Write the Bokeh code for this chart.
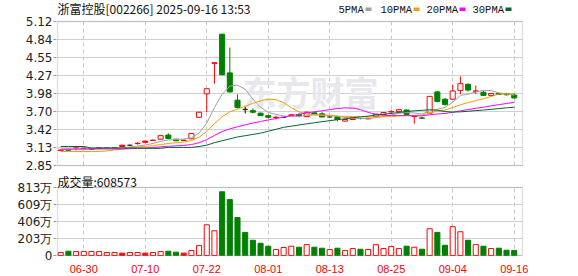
from bokeh.plotting import figure
from bokeh.layouts import column
from bokeh.models import FixedTicker, Range1d, Label, BoxAnnotation, ColumnDataSource
from bokeh.embed import file_html
from bokeh.resources import INLINE

# ---------------- data ----------------
dates = ["06-25", "06-26", "06-27", "06-30", "07-01", "07-02", "07-03", "07-04",
         "07-07", "07-08", "07-09", "07-10", "07-11",
         "07-14", "07-15", "07-16", "07-17", "07-18",
         "07-21", "07-22", "07-23", "07-24", "07-25",
         "07-28", "07-29", "07-30", "07-31", "08-01",
         "08-04", "08-05", "08-06", "08-07", "08-08",
         "08-11", "08-12", "08-13", "08-14", "08-15",
         "08-18", "08-19", "08-20", "08-21", "08-22",
         "08-25", "08-26", "08-27", "08-28", "08-29",
         "09-01", "09-02", "09-03", "09-04", "09-05",
         "09-08", "09-09", "09-10", "09-11", "09-12",
         "09-15", "09-16"]

opens = [3.085, 3.105, 3.14, 3.115, 3.105, 3.12, 3.13, 3.13, 3.17, 3.17,
         3.195, 3.235, 3.245, 3.265, 3.33, 3.265, 3.25, 3.27, 3.61, 3.98,
         4.46, 4.92, 4.31, 3.88, 3.735, 3.715, 3.675, 3.635, 3.605, 3.61,
         3.64, 3.655, 3.62, 3.68, 3.665, 3.615, 3.62, 3.55, 3.575, 3.59,
         3.585, 3.62, 3.655, 3.695, 3.70, 3.725, 3.62, 3.60, 3.675, 4.01,
         3.895, 3.895, 4.035, 4.13, 4.02, 4.005, 3.955, 3.985, 3.985, 3.96]
highs = [3.10, 3.11, 3.155, 3.13, 3.12, 3.14, 3.135, 3.14, 3.175, 3.18,
         3.22, 3.24, 3.255, 3.325, 3.36, 3.27, 3.255, 3.36, 3.69, 4.06,
         4.47, 4.92, 4.71, 3.97, 3.775, 3.75, 3.685, 3.65, 3.635, 3.615,
         3.66, 3.675, 3.70, 3.69, 3.69, 3.625, 3.625, 3.58, 3.605, 3.60,
         3.60, 3.665, 3.69, 3.725, 3.735, 3.73, 3.63, 3.62, 3.94, 4.025,
         3.915, 4.12, 4.255, 4.145, 4.11, 4.025, 3.99, 3.995, 3.995, 3.985]
lows = [3.08, 3.085, 3.085, 3.11, 3.10, 3.115, 3.125, 3.125, 3.145, 3.16,
        3.18, 3.21, 3.24, 3.26, 3.265, 3.235, 3.235, 3.265, 3.60, 3.69,
        4.14, 4.28, 4.00, 3.75, 3.67, 3.67, 3.63, 3.59, 3.575, 3.60,
        3.63, 3.61, 3.615, 3.65, 3.61, 3.605, 3.545, 3.545, 3.57, 3.58,
        3.58, 3.615, 3.65, 3.675, 3.695, 3.65, 3.51, 3.59, 3.67, 3.845,
        3.795, 3.885, 3.975, 4.015, 3.975, 3.95, 3.95, 3.96, 3.955, 3.905]
closes = [3.095, 3.09, 3.145, 3.125, 3.115, 3.13, 3.13, 3.13, 3.15, 3.17,
          3.20, 3.215, 3.25, 3.32, 3.275, 3.24, 3.245, 3.355, 3.69, 4.06,
          4.47, 4.28, 4.01, 3.765, 3.735, 3.69, 3.635, 3.61, 3.61, 3.61,
          3.65, 3.635, 3.69, 3.655, 3.615, 3.615, 3.575, 3.575, 3.60, 3.59,
          3.595, 3.66, 3.685, 3.70, 3.73, 3.655, 3.625, 3.595, 3.94, 3.86,
          3.81, 4.025, 4.14, 4.04, 4.025, 3.955, 3.985, 3.97, 3.965, 3.915]
volumes = [361200, 508400, 472100, 468300, 470900, 466200, 358800, 362500, 281300, 359700,
           363100, 279800, 357400, 471600, 512300, 398700, 282400, 593100, 1182500, 3671800,
           2958300, 7621400, 6683900, 4538600, 2761200, 1823700, 1458900, 1112400, 708600, 951200,
           1109800, 987300, 1302100, 991600, 868700, 712300, 871900, 589400, 829600, 748300,
           712800, 1298700, 831200, 1068900, 829400, 1112600, 988300, 751900, 3198600, 2763100,
           1219800, 3441700, 2838500, 1817900, 1301200, 1108700, 829900, 871300, 631800, 608573]

ma5 = [3.100, 3.100, 3.110, 3.110, 3.114, 3.121, 3.129, 3.126, 3.131, 3.142,
       3.156, 3.173, 3.197, 3.231, 3.252, 3.260, 3.266, 3.287, 3.361, 3.518,
       3.764, 3.971, 4.102, 4.117, 4.052, 3.896, 3.767, 3.687, 3.656, 3.631,
       3.623, 3.623, 3.639, 3.648, 3.649, 3.642, 3.630, 3.607, 3.596, 3.591,
       3.587, 3.604, 3.626, 3.646, 3.674, 3.686, 3.679, 3.661, 3.709, 3.735,
       3.766, 3.846, 3.955, 3.975, 4.008, 4.037, 4.029, 3.995, 3.980, 3.958]
ma10 = [3.070, 3.070, 3.070, 3.070, 3.070, 3.070, 3.080, 3.095, 3.110, 3.128,
        3.139, 3.151, 3.162, 3.181, 3.197, 3.208, 3.220, 3.242, 3.296, 3.385,
        3.512, 3.619, 3.695, 3.739, 3.785, 3.830, 3.869, 3.895, 3.887, 3.842,
        3.760, 3.695, 3.663, 3.652, 3.640, 3.633, 3.627, 3.623, 3.622, 3.620,
        3.615, 3.617, 3.617, 3.621, 3.633, 3.637, 3.642, 3.644, 3.678, 3.705,
        3.726, 3.763, 3.808, 3.842, 3.872, 3.902, 3.938, 3.975, 3.978, 3.983]
ma20 = [3.110, 3.110, 3.110, 3.110, 3.110, 3.110, 3.110, 3.110, 3.110, 3.115,
        3.120, 3.126, 3.133, 3.144, 3.153, 3.160, 3.167, 3.180, 3.209, 3.257,
        3.325, 3.385, 3.428, 3.460, 3.491, 3.519, 3.544, 3.568, 3.591, 3.613,
        3.636, 3.657, 3.679, 3.696, 3.713, 3.731, 3.748, 3.759, 3.754, 3.731,
        3.687, 3.656, 3.640, 3.637, 3.636, 3.635, 3.634, 3.633, 3.650, 3.662,
        3.670, 3.690, 3.712, 3.732, 3.752, 3.769, 3.790, 3.809, 3.828, 3.844]
ma30 = [3.150, 3.150, 3.150, 3.150, 3.125, 3.125, 3.125, 3.125, 3.125, 3.125,
        3.125, 3.120, 3.120, 3.120, 3.135, 3.135, 3.135, 3.135, 3.150, 3.170,
        3.210, 3.240, 3.270, 3.300, 3.320, 3.340, 3.360, 3.390, 3.420, 3.452,
        3.470, 3.488, 3.506, 3.524, 3.541, 3.557, 3.572, 3.587, 3.602, 3.616,
        3.629, 3.644, 3.658, 3.671, 3.686, 3.700, 3.712, 3.720, 3.729, 3.722,
        3.700, 3.692, 3.696, 3.705, 3.715, 3.724, 3.735, 3.747, 3.759, 3.769]

price_ticks = [2.85, 3.13375, 3.4175, 3.70125, 3.985, 4.26875, 4.5525, 4.83625, 5.12]
price_tick_labels = ["2.85", "3.13", "3.42", "3.70", "3.98", "4.27", "4.55", "4.84", "5.12"]
vol_ticks = [0, 2032500, 4065000, 6097500, 8130000]
vol_tick_labels = ["0", "203万", "406万", "609万", "813万"]
date_tick_labels = ["06-30", "07-10", "07-22", "08-01", "08-13", "08-25", "09-04", "09-16"]

stock_title = "浙富控股[002266] 2025-09-16 13:53"
ma_names = ["5PMA", "10PMA", "20PMA", "30PMA"]

# ---------------- styles / geometry ----------------
RED = "#ff0000"
GREEN = "#008000"
BLACK = "#000000"
MA_COLORS = ["#a0a0a0", "#f0a000", "#ff00ff", "#006633"]
GRID_H = "#d0d0d0"
GRID_V = "#c8c8c8"
FRAME = "#999999"
BODY_W = 0.66

PX_PER_BAR = 7.686
X_VIS_LO, X_VIS_HI = -0.42, 60.08          # visible box edges (bar units)
X_LO = X_VIS_LO - 1.0 / PX_PER_BAR          # frame one pixel wider each side
X_HI = X_VIS_HI + 1.0 / PX_PER_BAR

P_LO, P_HI = price_ticks[0], price_ticks[-1]
P_PX = (P_HI - P_LO) / 144.0                 # price per pixel
P_RANGE = (P_LO - 1 * P_PX, P_HI + 21 * P_PX)  # frame: 21 px header above, 1 px below

V_LO, V_HI = vol_ticks[0], vol_ticks[-1]
V_PX = (V_HI - V_LO) / 68.0
V_RANGE = (V_LO - 1 * V_PX, V_HI + 15 * V_PX)  # frame: 15 px header above, 1 px below

n = len(dates)
xs = list(range(n))

# classify each bar
wick_c, vol_fill, vol_line = [], [], []
b_x, b_top, b_bot, b_fill, b_line = [], [], [], [], []
f_x0, f_x1, f_y = [], [], []
for i in range(n):
    o, c = opens[i], closes[i]
    pc = closes[i - 1] if i > 0 else o
    if c > o:
        wc, fill, line = RED, "white", RED
        vf, vl = "white", RED
    elif c < o:
        if c >= pc:
            wc, fill, line = RED, RED, RED
            vf, vl = RED, RED
        else:
            wc, fill, line = GREEN, GREEN, GREEN
            vf, vl = GREEN, GREEN
    else:
        wc, fill, line = BLACK, None, None
        if c >= pc:
            vf, vl = "white", RED
        else:
            vf, vl = GREEN, GREEN
    wick_c.append(wc)
    vol_fill.append(vf)
    vol_line.append(vl)
    if fill is None:
        f_x0.append(i - BODY_W / 2)
        f_x1.append(i + BODY_W / 2)
        f_y.append(c)
    else:
        b_x.append(i)
        b_top.append(max(o, c))
        b_bot.append(min(o, c))
        b_fill.append(fill)
        b_line.append(line)

tick_idx = [dates.index(d) for d in date_tick_labels]
x_range = Range1d(X_LO, X_HI)


def style_grids(p, y_lo, y_hi):
    xg = p.xgrid[0]
    yg = p.ygrid[0]
    xg.ticker = FixedTicker(ticks=tick_idx)
    xg.grid_line_color = GRID_V
    xg.grid_line_dash = "4 3"
    yg.grid_line_color = GRID_H
    ok = True
    try:
        xg.cross_bounds = (y_lo, y_hi)
        yg.cross_bounds = (X_VIS_LO, X_VIS_HI)
    except Exception:
        ok = False
    if not ok:
        xg.visible = False
        yg.visible = False
        p.segment(x0=tick_idx, y0=[y_lo] * len(tick_idx), x1=tick_idx, y1=[y_hi] * len(tick_idx),
                  line_color=GRID_V, line_dash="4 3", line_width=1)


def style_yaxis(ax, ticks, labels):
    ax.ticker = FixedTicker(ticks=ticks)
    ax.major_label_overrides = {t: s for t, s in zip(ticks, labels)}
    ax.axis_line_color = None
    ax.major_tick_out = 3
    ax.major_tick_in = 0
    ax.major_tick_line_color = FRAME
    ax.minor_tick_line_color = None
    ax.major_label_standoff = 1
    ax.major_label_text_font = "DejaVu Sans"
    ax.major_label_text_font_size = "12px"
    ax.major_label_text_color = "#222222"


# ---------------- price figure ----------------
p1 = figure(width=578, height=172, x_range=x_range, y_range=Range1d(*P_RANGE),
            output_backend="svg", toolbar_location=None, x_axis_location=None,
            min_border_left=56, min_border_right=55, min_border_top=0, min_border_bottom=6,
            background_fill_color="white", border_fill_color="white")
p1.outline_line_color = None
style_grids(p1, P_LO, P_HI)
style_yaxis(p1.yaxis[0], price_ticks, price_tick_labels)

# watermark
p1.add_layout(Label(x=186, y=75, x_units="screen", y_units="screen", text="东方财富",
                    text_font="Noto Sans CJK SC", text_font_size="34px", text_font_style="bold",
                    text_color="#e8e8ec", text_baseline="middle", level="underlay"))

wick_src = ColumnDataSource(dict(x=xs, low=lows, high=highs, c=wick_c))
p1.segment(x0="x", y0="low", x1="x", y1="high", line_color="c", line_width=1, source=wick_src)
body_src = ColumnDataSource(dict(x=b_x, top=b_top, bottom=b_bot, fill=b_fill, line=b_line))
p1.vbar(x="x", top="top", bottom="bottom", width=BODY_W, fill_color="fill",
        line_color="line", line_width=1, source=body_src)
flat_src = ColumnDataSource(dict(x0=f_x0, x1=f_x1, y=f_y))
p1.segment(x0="x0", y0="y", x1="x1", y1="y", line_color=BLACK, line_width=1, source=flat_src)

for ma, col in zip([ma5, ma10, ma20, ma30], MA_COLORS):
    p1.line(xs, ma, line_color=col, line_width=1)

p1.add_layout(BoxAnnotation(left=X_VIS_LO, right=X_VIS_HI, bottom=P_LO, top=P_HI,
                            fill_color=None, line_color=FRAME, line_width=1.5))

# title (frame-relative screen units: frame bottom is 166 px from canvas top)
p1.add_layout(Label(x=1, y=158, x_units="screen", y_units="screen", text=stock_title,
                    text_font="Noto Sans CJK SC", text_font_size="12px",
                    text_color="#111111", text_baseline="middle"))

# legend
leg_text_x = [282, 324, 370, 416]
leg_box_x = [309, 357, 403, 449]
for name, col, tx, bx in zip(ma_names, MA_COLORS, leg_text_x, leg_box_x):
    p1.add_layout(Label(x=tx, y=157, x_units="screen", y_units="screen", text=name,
                        text_font="Liberation Mono", text_font_size="10.5px",
                        text_color="#111111", text_baseline="middle"))
    p1.add_layout(BoxAnnotation(left=bx, right=bx + 6, bottom=155.5, top=159,
                                left_units="screen", right_units="screen",
                                top_units="screen", bottom_units="screen",
                                fill_color=col, fill_alpha=1.0, line_color=None))

# ---------------- volume figure ----------------
p2 = figure(width=578, height=104, x_range=x_range, y_range=Range1d(*V_RANGE),
            output_backend="svg", toolbar_location=None,
            min_border_left=56, min_border_right=55, min_border_top=0, min_border_bottom=20,
            background_fill_color="white", border_fill_color="white")
p2.outline_line_color = None
style_grids(p2, V_LO, V_HI)
style_yaxis(p2.yaxis[0], vol_ticks, vol_tick_labels)

xa = p2.xaxis[0]
xa.ticker = FixedTicker(ticks=tick_idx)
xa.major_label_overrides = {i: d for i, d in zip(tick_idx, date_tick_labels)}
xa.axis_line_color = None
xa.major_tick_line_color = None
xa.minor_tick_line_color = None
xa.major_label_standoff = 2
xa.major_label_text_font = "Liberation Sans"
xa.major_label_text_font_size = "11px"
xa.major_label_text_color = RED

vol_src = ColumnDataSource(dict(x=xs, v=volumes, f=vol_fill, l=vol_line))
p2.vbar(x="x", top="v", bottom=0, width=BODY_W, fill_color="f", line_color="l",
        line_width=1, source=vol_src)

p2.add_layout(BoxAnnotation(left=X_VIS_LO, right=X_VIS_HI, bottom=V_LO, top=V_HI,
                            fill_color=None, line_color=FRAME, line_width=1.5))

# volume caption; its box starts at the top of this figure
p2.add_layout(Label(x=1, y=84, x_units="screen", y_units="screen",
                    text="成交量:" + str(volumes[-1]),
                    text_font="Noto Sans CJK SC", text_font_size="12px",
                    text_color="#111111", text_baseline="top"))

layout = column(p1, p2)
open("out.html", "w").write(file_html(layout, INLINE))
